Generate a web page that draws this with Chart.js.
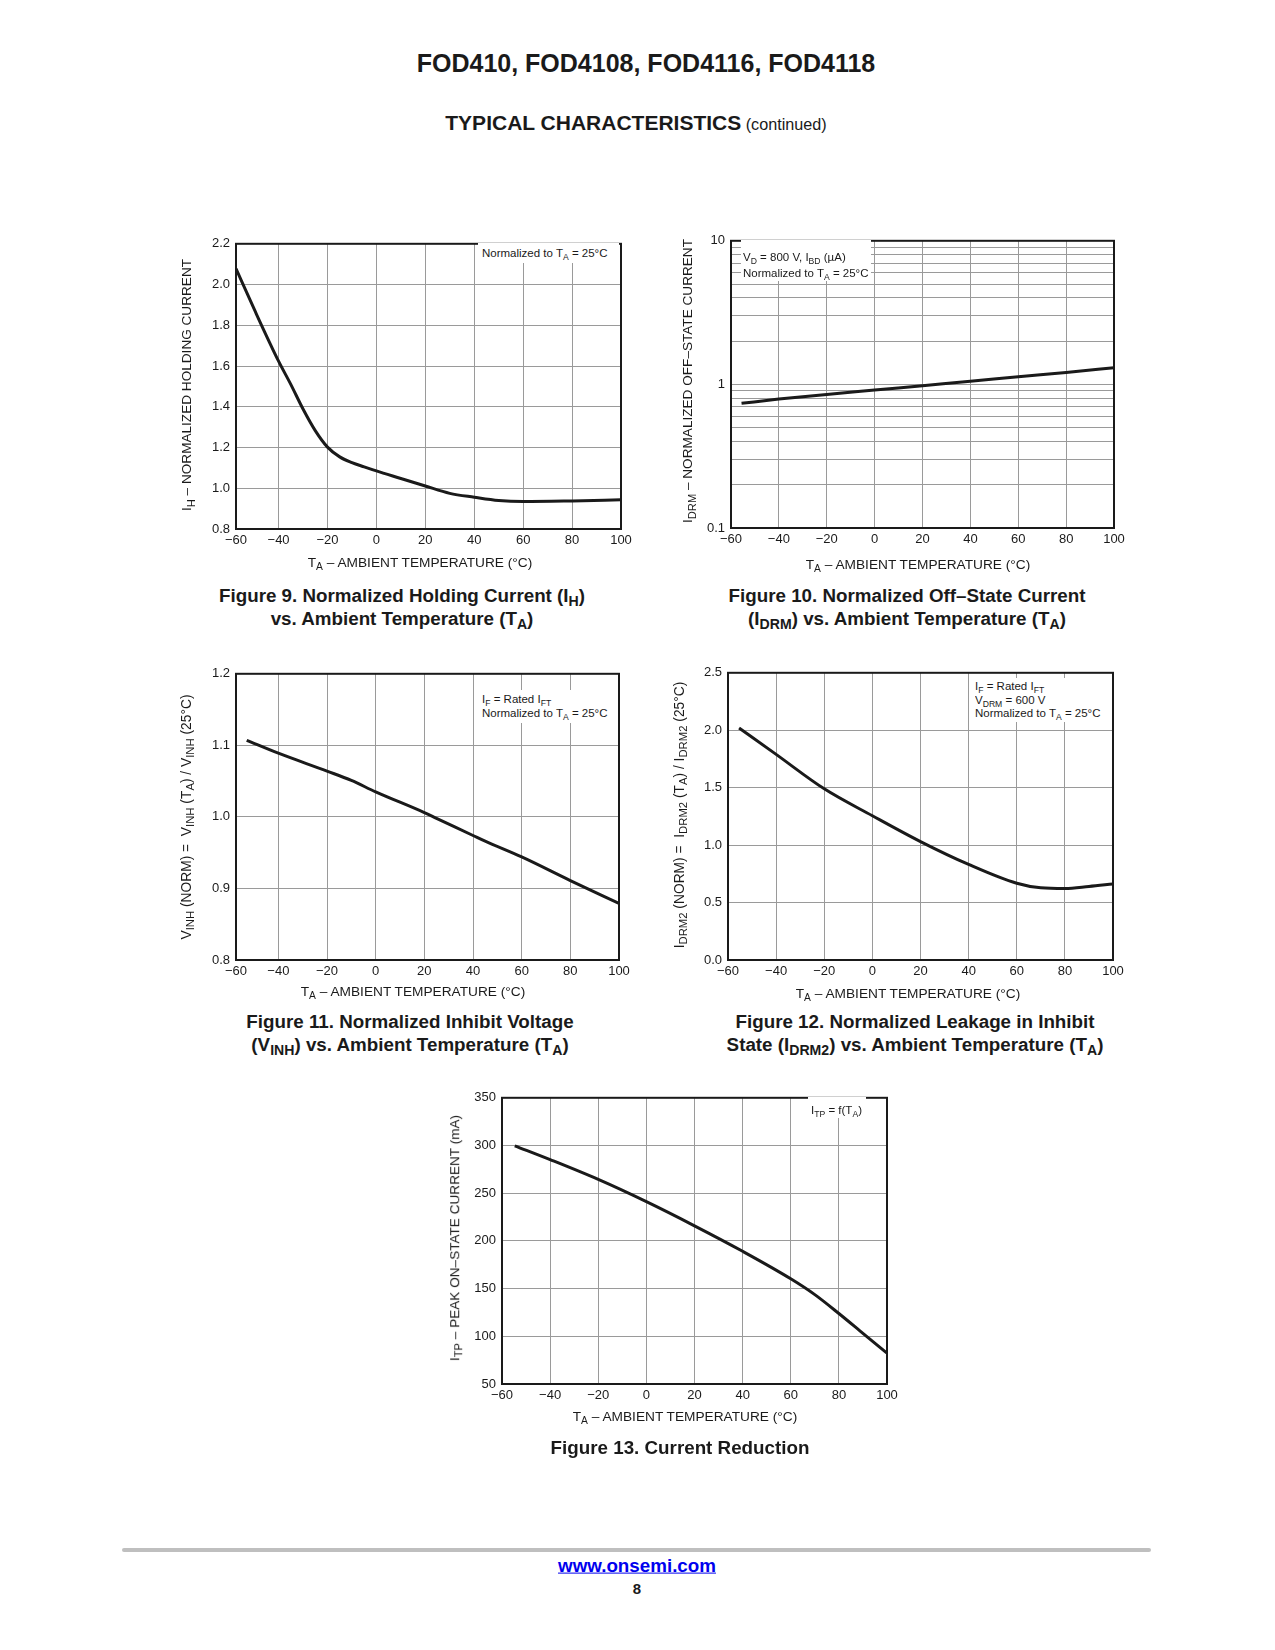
<!DOCTYPE html>
<html>
<head>
<meta charset="utf-8">
<script src="https://cdn.jsdelivr.net/npm/chart.js@4.4.1/dist/chart.umd.min.js"></script>
<style>
 body  { margin:0; background:#fff; font-family:"Liberation Sans", Arial, Helvetica, sans-serif; color:#1a1a1a; }
 #page { position:relative; width:1275px; height:1650px; overflow:hidden; }
 .txt  { position:absolute; white-space:nowrap; line-height:1; transform:translate(-50%,-50%); }
 .rot  { transform:translate(-50%,-50%) rotate(-90deg); }
 .cap  { font-weight:bold; font-size:18.8px; }
 .axe  { font-size:13.7px; }
 .roty { font-size:13.6px; }
 .roty sub { font-size:0.82em; }
 .note { position:absolute; background:#fff; font-size:11.5px; white-space:nowrap; box-sizing:border-box; }
 sub   { font-size:0.75em; vertical-align:-0.3em; line-height:0; }
 canvas{ position:absolute; }
</style>
</head>
<body>
<div id="page"></div>
<script>
/******************************************* Valeurs **************************************************************************/
 var ticks_temp   = [ -60, -40, -20, 0, 20, 40, 60, 80, 100 ];
 var ticks_log    = [ 0.1, 0.2, 0.3, 0.4, 0.5, 0.6, 0.7, 0.8, 0.9, 1, 2, 3, 4, 5, 6, 7, 8, 9, 10 ];

 var temp_fig9    = [ -57.4, -50, -40, -35, -30, -25, -20, -15, -10, -5, 0, 10, 20, 30, 40, 50, 60, 80, 100 ];
 var ih_fig9      = [ 2.078, 1.88, 1.624, 1.51, 1.389, 1.283, 1.202, 1.154, 1.126, 1.105, 1.085, 1.048, 1.011, 0.975, 0.956, 0.94, 0.935, 0.938, 0.943 ];

 var temp_fig10   = [ -55.6, -40, -20, 0, 20, 40, 60, 80, 100 ];
 var idrm_fig10   = [ 0.738, 0.79, 0.852, 0.913, 0.98, 1.05, 1.13, 1.21, 1.306 ];

 var temp_fig11   = [ -53, -40, -20, -10, 0, 20, 25, 40, 45, 60, 80, 100 ];
 var vinh_fig11   = [ 1.107, 1.089, 1.064, 1.051, 1.035, 1.006, 0.998, 0.974, 0.966, 0.944, 0.911, 0.879 ];

 var temp_fig12   = [ -55.4, -40, -20, 0, 20, 40, 60, 70, 80, 90, 100 ];
 var idrm2_fig12  = [ 2.02, 1.79, 1.49, 1.256, 1.031, 0.832, 0.668, 0.628, 0.622, 0.64, 0.662 ];

 var temp_fig13   = [ -54.7, -40, -20, 0, 20, 40, 60, 70, 80, 90, 100 ];
 var itp_fig13    = [ 299.7, 285.2, 264.4, 241.1, 215.8, 189.1, 160.3, 143.7, 123.9, 103.1, 82.3 ];

 var AXE_Y = 50, AXE_X = 30, MARGE_H = 12, MARGE_D = 22;
 var NOIR = "#1a1a1a", GRIS = "#9a9a9a";
 var page = document.getElementById("page");

/******************************************* Petits utilitaires de placement **************************************************/
 function Texte ( html, cx, cy, classe )
  { var div = document.createElement("div");
    div.className = "txt " + (classe || "");
    div.innerHTML = html;
    div.style.left = cx+"px"; div.style.top = cy+"px";
    page.appendChild(div);
    return(div);
  }

 function Note ( lignes, boite, xtexte, ycentre, hligne )
  { var div = document.createElement("div");
    div.className = "note";
    div.style.left   = boite[0]+"px"; div.style.top = boite[1]+"px";
    div.style.width  = (boite[2]-boite[0])+"px";
    div.style.height = (boite[3]-boite[1])+"px";
    div.style.paddingLeft = (xtexte-boite[0])+"px";
    div.style.paddingTop  = (ycentre-boite[1]-hligne/2)+"px";
    div.style.lineHeight  = hligne+"px";
    div.innerHTML = lignes.join("<br>");
    page.appendChild(div);
  }

 function Libelle_temp ( v )
  { return( v < 0 ? "\u2212"+(-v) : ""+v ); }

 var Cadre = { id: "cadre",                                                        /* cadre noir autour de la zone de trace */
               afterDraw: function ( chart )
                { var a = chart.chartArea, ctx = chart.ctx;
                  ctx.save();
                  ctx.strokeStyle = NOIR; ctx.lineWidth = 2;
                  ctx.strokeRect( a.left, a.top, a.right-a.left, a.bottom-a.top );
                  ctx.restore();
                }
             };

/******************************************* Creation d'un graphe *************************************************************/
 function Creer_courbe ( fig )
  { var cv = document.createElement("canvas");
    cv.width  = fig.plot[2]-fig.plot[0] + AXE_Y + MARGE_D;
    cv.height = fig.plot[3]-fig.plot[1] + MARGE_H + AXE_X;
    cv.style.left = (fig.plot[0]-AXE_Y)+"px";
    cv.style.top  = (fig.plot[1]-MARGE_H)+"px";
    page.appendChild(cv);

    var police = { family: "Liberation Sans", size: 13 };
    var xmin = fig.xmin;

    var scales =
     { x: { type: "linear", min: xmin, max: 100,
            afterBuildTicks: function (s) { s.ticks = ticks_temp.map( function(v) { return( { value: Math.max(v, xmin) } ); } ); },
            afterFit: function (s) { s.height = AXE_X; },
            grid: { color: GRIS, lineWidth: 1, drawTicks: false },
            border: { display: false },
            ticks: { font: police, color: NOIR, padding: 4, maxRotation: 0, autoSkip: false,
                     callback: function (v, i) { return( Libelle_temp(ticks_temp[i]) ); } }
          },
       y: { type: fig.log ? "logarithmic" : "linear", min: fig.ymin, max: fig.ymax,
            afterFit: function (s) { s.width = AXE_Y; },
            grid: { color: GRIS, lineWidth: 1, drawTicks: false },
            border: { display: false },
            ticks: { font: police, color: NOIR, padding: 6, autoSkip: false, stepSize: fig.pas,
                     callback: fig.format }
          }
     };
    if (fig.log)
     { scales.y.afterBuildTicks = function (s) { s.ticks = ticks_log.map( function(v) { return( { value: v } ); } ); }; }

    new Chart( cv,
     { type: "line",
       data: { datasets: [ { data: fig.x.map( function (v, i) { return( { x: v, y: fig.y[i] } ); } ),
                             borderColor: NOIR, borderWidth: 3, pointRadius: 0,
                             cubicInterpolationMode: "monotone", fill: false } ] },
       options: { responsive: false, animation: false, events: [],
                  layout: { padding: { top: MARGE_H, right: MARGE_D, left: 0, bottom: 0 } },
                  plugins: { legend: { display: false }, tooltip: { enabled: false } },
                  scales: scales
                },
       plugins: [ Cadre ]
     });
  }

/******************************************* Les cinq figures *****************************************************************/
 var titre_x = "T<sub>A</sub> \u2013 AMBIENT TEMPERATURE (\u00B0C)";

 Creer_courbe ( { plot: [236, 242, 621, 529], xmin: -57.4, ymin: 0.8, ymax: 2.2, pas: 0.2,
                  x: temp_fig9, y: ih_fig9, format: function (v) { return v.toFixed(1); } } );
 Creer_courbe ( { plot: [731, 239, 1114, 528], xmin: -60, ymin: 0.1, ymax: 10, log: true,
                  x: temp_fig10, y: idrm_fig10,
                  format: function (v) { return( (v===0.1 || v===1 || v===10) ? ""+v : "" ); } } );
 Creer_courbe ( { plot: [236, 672, 619, 960], xmin: -57.4, ymin: 0.8, ymax: 1.2, pas: 0.1,
                  x: temp_fig11, y: vinh_fig11, format: function (v) { return v.toFixed(1); } } );
 Creer_courbe ( { plot: [728, 671, 1113, 960], xmin: -60, ymin: 0, ymax: 2.5, pas: 0.5,
                  x: temp_fig12, y: idrm2_fig12, format: function (v) { return v.toFixed(1); } } );
 Creer_courbe ( { plot: [502, 1096, 887, 1384], xmin: -60, ymin: 50, ymax: 350, pas: 50,
                  x: temp_fig13, y: itp_fig13, format: function (v) { return ""+v; } } );

/******************************************* Titres d'axes *******************************************************************/
 Texte ( titre_x, 420, 563, "axe" );
 Texte ( titre_x, 918, 565, "axe" );
 Texte ( titre_x, 413, 992, "axe" );
 Texte ( titre_x, 908, 994, "axe" );
 Texte ( titre_x, 685, 1417, "axe" );
 Texte ( "I<sub>H</sub> \u2013 NORMALIZED HOLDING CURRENT", 187, 385, "roty rot" );
 Texte ( "I<sub>DRM</sub> \u2013 NORMALIZED OFF\u2013STATE CURRENT", 688, 381, "roty rot" );
 Texte ( "V<sub>INH</sub> (NORM) =&nbsp; V<sub>INH</sub> (T<sub>A</sub>) / V<sub>INH</sub> (25\u00B0C)", 187, 817, "roty rot" ).style.fontSize = "13.8px";
 Texte ( "I<sub>DRM2</sub> (NORM) =&nbsp; I<sub>DRM2</sub> (T<sub>A</sub>) / I<sub>DRM2</sub> (25\u00B0C)", 680, 815, "roty rot" ).style.fontSize = "13.8px";
 Texte ( "I<sub>TP</sub> \u2013 PEAK ON\u2013STATE CURRENT (mA)", 455, 1238, "roty rot" );

/******************************************* Annotations dans les graphes ****************************************************/
 var norm = "Normalized to T<sub>A</sub> = 25\u00B0C";
 Note ( [ norm ], [478, 243, 619, 263], 482, 253, 15 );
 Note ( [ "V<sub>D</sub> = 800 V, I<sub>BD</sub> (\u00B5A)", norm ], [741, 240, 871, 281], 743, 257, 16 );
 Note ( [ "I<sub>F</sub> = Rated I<sub>FT</sub>", norm ], [478, 690, 611, 723], 482, 700, 13.5 );
 Note ( [ "I<sub>F</sub> = Rated I<sub>FT</sub>", "V<sub>DRM</sub> = 600 V", norm ], [975, 678, 1102, 722], 975, 687, 13.3 );
 Note ( [ "I<sub>TP</sub> = f(T<sub>A</sub>)" ], [808, 1097, 866, 1118], 811, 1110, 15 );

/******************************************* Titres de page et legendes des figures ******************************************/
 Texte ( "FOD410, FOD4108, FOD4116, FOD4118", 646, 63 ).style.cssText += "font-weight:bold;font-size:25px;";
 Texte ( "<b style='font-size:21px'>TYPICAL CHARACTERISTICS</b> <span style='font-size:16.2px'>(continued)</span>", 636, 122 );

 Texte ( "Figure 9. Normalized Holding Current (I<sub>H</sub>)", 402, 596, "cap" );
 Texte ( "vs. Ambient Temperature (T<sub>A</sub>)", 402, 619, "cap" );
 Texte ( "Figure 10. Normalized Off\u2013State Current", 907, 596, "cap" );
 Texte ( "(I<sub>DRM</sub>) vs. Ambient Temperature (T<sub>A</sub>)", 907, 619, "cap" );
 Texte ( "Figure 11. Normalized Inhibit Voltage", 410, 1022, "cap" );
 Texte ( "(V<sub>INH</sub>) vs. Ambient Temperature (T<sub>A</sub>)", 410, 1045, "cap" );
 Texte ( "Figure 12. Normalized Leakage in Inhibit", 915, 1022, "cap" );
 Texte ( "State (I<sub>DRM2</sub>) vs. Ambient Temperature (T<sub>A</sub>)", 915, 1045, "cap" );
 Texte ( "Figure 13. Current Reduction", 680, 1448, "cap" );

/******************************************* Pied de page ********************************************************************/
 var barre = document.createElement("div");
 barre.style.cssText = "position:absolute;left:122px;top:1548px;width:1029px;height:4px;background:#bfbfbf;border-radius:2px;";
 page.appendChild(barre);
 Texte ( "<a href='#' style='color:#0000ee;text-decoration:underline'>www.onsemi.com</a>", 637, 1566 ).style.cssText += "font-weight:bold;font-size:18.8px;";
 Texte ( "8", 637, 1588 ).style.cssText += "font-weight:bold;font-size:15px;";
/*----------------------------------------------------------------------------------------------------------------------------*/
</script>
</body>
</html>
